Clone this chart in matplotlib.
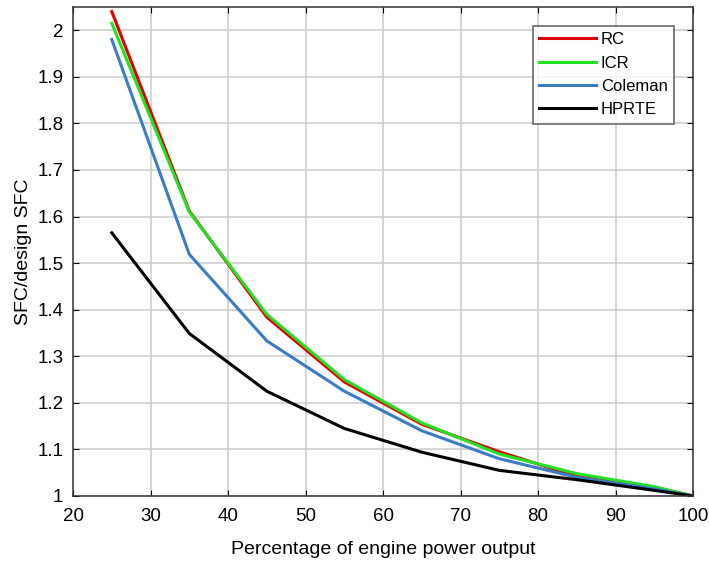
import numpy as np
import matplotlib.pyplot as plt

plt.rcParams['font.family'] = ['Liberation Sans', 'DejaVu Sans']

# Data
power = [25, 35, 45, 55, 65, 75, 85, 95, 100]
rc = [2.04, 1.612, 1.384, 1.245, 1.154, 1.095, 1.042, 1.018, 1.0]
icr = [2.015, 1.61, 1.39, 1.25, 1.157, 1.09, 1.048, 1.02, 1.0]
coleman = [1.98, 1.519, 1.333, 1.225, 1.14, 1.08, 1.04, 1.015, 1.0]
hprte = [1.565, 1.349, 1.225, 1.145, 1.094, 1.055, 1.035, 1.012, 1.0]

names = ['RC', 'ICR', 'Coleman', 'HPRTE']
colors = ['#e00000', '#22e022', '#3a7cc4', '#000000']


def main():
    fig = plt.figure(figsize=(7.09, 5.61), dpi=100)
    ax = fig.add_axes([0.103, 0.1159, 0.8745, 0.8717])
    for vals, name, c in zip([rc, icr, coleman, hprte], names, colors):
        ax.plot(power, vals, color=c, lw=2.2, label=name)

    ax.set_xlim(20, 100)
    ax.set_ylim(1, 2.05)
    ax.set_xticks(np.arange(20, 101, 10))
    ax.set_yticks(np.arange(1, 2.01, 0.1))
    ax.set_yticklabels(['1', '1.1', '1.2', '1.3', '1.4', '1.5', '1.6', '1.7', '1.8', '1.9', '2'])
    ax.grid(True, color='#cccccc', lw=1.1)
    ax.tick_params(direction='in', top=True, right=True, labelsize=13.5, length=4)
    ax.tick_params(axis='x', pad=9)
    ax.tick_params(axis='y', pad=7)
    for s in ax.spines.values():
        s.set_color('#333333')
        s.set_linewidth(1.1)
    ax.set_xlabel('Percentage of engine power output', fontsize=14, labelpad=11)
    ax.set_ylabel('SFC/design SFC', fontsize=14, labelpad=4)
    leg = ax.legend(loc='upper right', bbox_to_anchor=(0.97, 0.962), fontsize=12,
                    fancybox=False, edgecolor='#333333', handlelength=3.4,
                    handletextpad=0.3, borderpad=0.4, labelspacing=0.5,
                    borderaxespad=0)
    leg.get_frame().set_linewidth(1.1)
    fig.savefig('out.png')


if __name__ == '__main__':
    main()
